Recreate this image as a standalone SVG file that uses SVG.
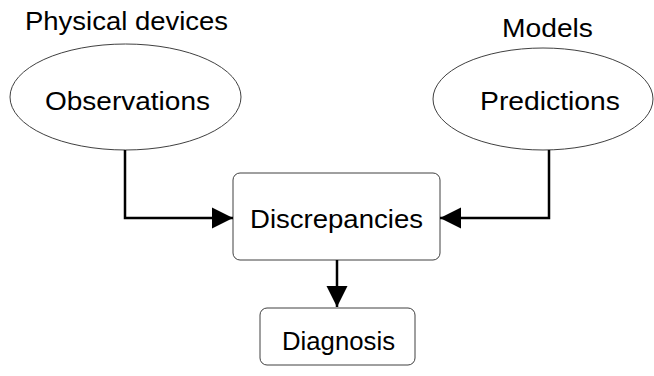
<svg xmlns="http://www.w3.org/2000/svg" width="654" height="376" viewBox="0 0 654 376">
<defs>
<style>
.shape{fill:#fff;stroke:#404040;stroke-width:1}
.lbl{font-family:"Liberation Sans",Arial,sans-serif;font-size:26px;fill:#000}
.conn{fill:none;stroke:#000;stroke-width:2.5}
</style>
<marker id="arr" viewBox="0 0 10 10" refX="10" refY="5" markerUnits="userSpaceOnUse" markerWidth="21" markerHeight="22" orient="auto">
<path d="M0,0 L10,5 L0,10 Z" fill="#000"/>
</marker>
</defs>
<rect width="654" height="376" fill="#fff"/>
<text class="lbl" x="25" y="30" textLength="203" lengthAdjust="spacingAndGlyphs">Physical devices</text>
<text class="lbl" x="502" y="37" textLength="91" lengthAdjust="spacingAndGlyphs">Models</text>
<g id="observations">
<ellipse class="shape" cx="125.5" cy="97" rx="115.5" ry="53"/>
<text class="lbl" x="45" y="110" textLength="165" lengthAdjust="spacingAndGlyphs">Observations</text>
</g>
<g id="predictions">
<ellipse class="shape" cx="543" cy="99" rx="110" ry="51"/>
<text class="lbl" x="480" y="110" textLength="140" lengthAdjust="spacingAndGlyphs">Predictions</text>
</g>
<g id="discrepancies">
<rect class="shape" x="233" y="173" width="207" height="87" rx="7"/>
<text class="lbl" x="250" y="228" textLength="173" lengthAdjust="spacingAndGlyphs">Discrepancies</text>
</g>
<g id="diagnosis">
<rect class="shape" x="260" y="308" width="155" height="57" rx="7"/>
<text class="lbl" x="282" y="350" textLength="113" lengthAdjust="spacingAndGlyphs">Diagnosis</text>
</g>
<g id="connectors">
<path class="conn" d="M125,150 V218 H233" marker-end="url(#arr)"/>
<path class="conn" d="M549,150 V218 H440" marker-end="url(#arr)"/>
<path class="conn" d="M337,260 V307" marker-end="url(#arr)"/>
</g>
</svg>
